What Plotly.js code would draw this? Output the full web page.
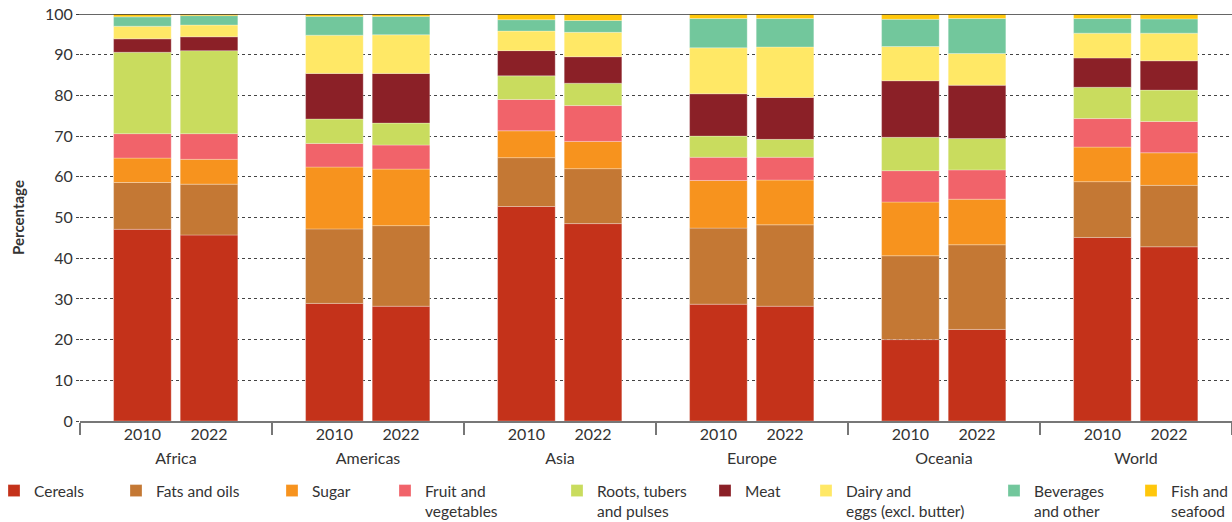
<!DOCTYPE html>
<html>
<head>
<meta charset="utf-8">
<script src="https://cdn.plot.ly/plotly-3.0.1.min.js"></script>
<style>
  html, body { margin: 0; padding: 0; background: #fff; }
  #chart { width: 1232px; height: 522px; }
</style>
</head>
<body>
<div id="chart"></div>
<script>
// ---- Data (share of dietary energy supply, %) ----
const regions = ['Africa', 'Americas', 'Asia', 'Europe', 'Oceania', 'World'];
const years = ['2010', '2022'];

// each array: Africa 2010, Africa 2022, Americas 2010, Americas 2022, ... World 2022
const cereals   = [47.1, 45.7, 28.9, 28.2, 52.7, 48.5, 28.7, 28.2, 20.0, 22.5, 45.1, 42.8];
const fatsOils  = [11.5, 12.5, 18.3, 19.8, 12.0, 13.5, 18.7, 20.0, 20.6, 20.8, 13.7, 15.1];
const sugar     = [ 6.0,  6.1, 15.2, 13.9,  6.6,  6.7, 11.7, 11.0, 13.2, 11.2,  8.5,  8.0];
const fruitVeg  = [ 6.0,  6.3,  5.8,  5.9,  7.7,  8.8,  5.7,  5.6,  7.7,  7.2,  7.0,  7.7];
const roots     = [20.0, 20.4,  6.0,  5.4,  5.8,  5.5,  5.2,  4.4,  8.2,  7.7,  7.7,  7.7];
const meat      = [ 3.3,  3.4, 11.2, 12.2,  6.2,  6.5, 10.4, 10.3, 13.9, 13.1,  7.2,  7.2];
const dairy     = [ 3.1,  2.9,  9.4,  9.5,  4.8,  6.0, 11.3, 12.4,  8.4,  7.8,  6.1,  6.8];
const beverages = [ 2.3,  2.3,  4.6,  4.5,  2.8,  2.9,  7.2,  7.0,  6.7,  8.6,  3.6,  3.5];
const fish      = [ 0.7,  0.4,  0.6,  0.6,  1.4,  1.6,  1.1,  1.1,  1.3,  1.1,  1.1,  1.2];

const seriesNames = ['Cereals', 'Fats and oils', 'Sugar', 'Fruit and<br>vegetables',
  'Roots, tubers<br>and pulses', 'Meat', 'Dairy and<br>eggs (excl. butter)',
  'Beverages<br>and other', 'Fish and<br>seafood'];
const seriesValues = [cereals, fatsOils, sugar, fruitVeg, roots, meat, dairy, beverages, fish];

// ---- Styles ----
const colors = ['#c4321a', '#c47834', '#f7931e', '#f1636a', '#c9dc5e', '#8b2027', '#ffe866', '#72c79c', '#ffc70b'];
// legend text left edges in the reference (px)
const legendTextX = [32, 154, 310, 423, 595, 743, 844, 1032, 1169];

const plotLeft = 80, plotRight = 1232, plotTop = 14, plotBottom = 421;
const plotW = plotRight - plotLeft, plotH = plotBottom - plotTop;

const barWidth = 0.3;
const yearOffset = [-0.325, 0.022];

const font = "Lato, 'Open Sans', sans-serif";
const textColor = '#333333';

// cumulative bases for stacking (derived from the data)
const bases = [];
let running = cereals.map(() => 0);
seriesValues.forEach(vals => {
  bases.push(running.slice());
  running = running.map((b, k) => b + vals[k]);
});

const traces = [];
seriesValues.forEach((vals, i) => {
  years.forEach((yr, j) => {
    const idx = regions.map((_, r) => r * years.length + j);
    traces.push({
      type: 'bar',
      name: seriesNames[i],
      legendgroup: 's' + i,
      showlegend: j === 0,
      legend: i === 0 ? 'legend' : 'legend' + (i + 1),
      x: regions,
      y: idx.map(k => vals[k]),
      base: idx.map(k => bases[i][k]),
      offset: yearOffset[j],
      width: barWidth,
      xaxis: 'x', yaxis: 'y',
      marker: { color: colors[i], line: { color: 'rgba(255,255,255,0.45)', width: 0.6 } },
      hovertemplate: '%{x} ' + yr + ': %{y:.1f}%<extra>' + seriesNames[i].replace('<br>', ' ') + '</extra>'
    });
  });
});

// empty helper trace so that the year-label axis is drawn
traces.push({ type: 'scatter', mode: 'markers', x: [], y: [], xaxis: 'x2', yaxis: 'y', showlegend: false, hoverinfo: 'skip' });

const yearTickVals = [], yearTickText = [];
regions.forEach((_, r) => years.forEach((yr, j) => {
  yearTickVals.push(r + yearOffset[j] + barWidth / 2);
  yearTickText.push(yr);
}));

const layout = {
  width: 1232, height: 522,
  margin: { l: plotLeft, r: 1232 - plotRight, t: plotTop, b: 522 - plotBottom, autoexpand: false },
  paper_bgcolor: '#ffffff', plot_bgcolor: '#ffffff',
  barmode: 'overlay',
  font: { family: font, size: 15, color: textColor },
  showlegend: true,
  xaxis: {
    type: 'category',
    range: [-0.5, regions.length - 0.5],
    showline: true, linecolor: '#777777', linewidth: 1.5,
    showgrid: false,
    ticks: 'outside', tickson: 'boundaries', ticklen: 12, tickwidth: 1.5, tickcolor: '#777777',
    ticklabelstandoff: 22,
    tickfont: { family: font, size: 16, color: textColor },
    automargin: false, fixedrange: true
  },
  xaxis2: {
    overlaying: 'x', anchor: 'y', side: 'bottom', type: 'linear',
    range: [-0.5, regions.length - 0.5],
    tickmode: 'array', tickvals: yearTickVals, ticktext: yearTickText,
    showgrid: false, zeroline: false, showline: false, ticks: '',
    ticklabelstandoff: 2,
    tickfont: { family: font, size: 16, color: textColor },
    automargin: false, fixedrange: true
  },
  yaxis: {
    range: [0, 100], dtick: 10,
    showgrid: true, gridcolor: '#444444', gridwidth: 1, griddash: '3px,3px',
    zeroline: false, showline: false,
    ticks: 'outside', ticklen: 3, tickcolor: '#444444',
    tickfont: { family: font, size: 16, color: textColor },
    title: { text: '<b>Percentage</b>', font: { family: font, size: 15, color: textColor }, standoff: 16 },
    automargin: false, fixedrange: true
  },
  shapes: [{
    type: 'line', xref: 'paper', yref: 'y', x0: -0.003, x1: 1, y0: 100, y1: 100,
    line: { color: '#333333', width: 1.5 }
  }]
};

legendTextX.forEach((tx, i) => {
  const key = i === 0 ? 'legend' : 'legend' + (i + 1);
  layout[key] = {
    x: (tx - 38 - plotLeft) / plotW,
    y: (plotBottom - 474) / plotH,
    xanchor: 'left', yanchor: 'top',
    orientation: 'h', valign: 'top',
    bgcolor: 'rgba(0,0,0,0)', borderwidth: 0,
    font: { family: font, size: 15.5, color: textColor },
    itemclick: false, itemdoubleclick: false
  };
});

Plotly.newPlot('chart', traces, layout, { displayModeBar: false });
</script>
</body>
</html>
